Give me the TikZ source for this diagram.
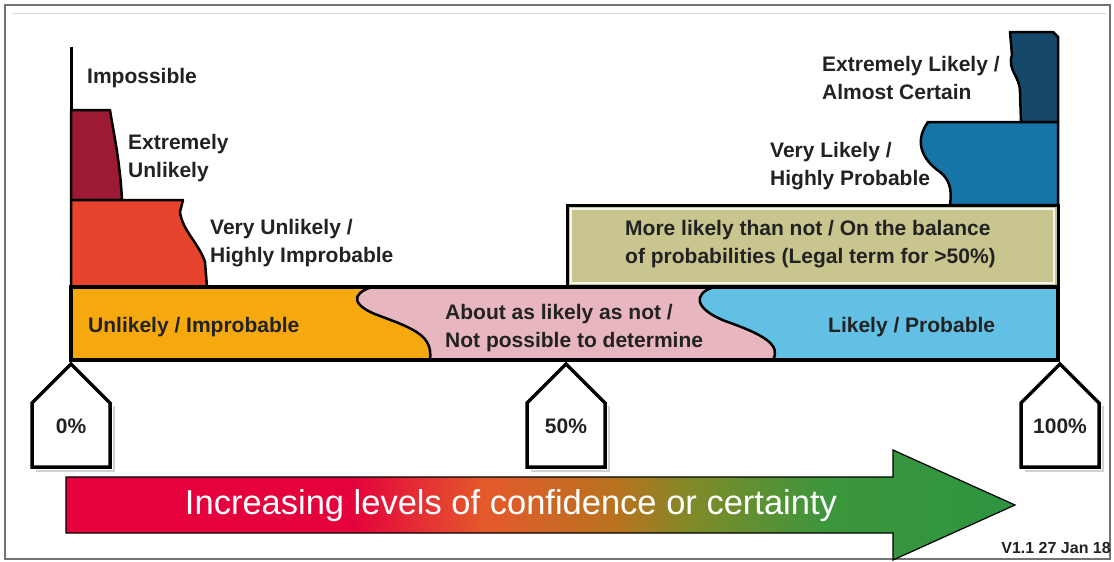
\documentclass[tikz,border=0pt]{standalone}
\usepackage{fontspec}
\setmainfont{Liberation Sans}
\definecolor{cDarkRed}{HTML}{9C1A33}
\definecolor{cRed}{HTML}{E8432C}
\definecolor{cOrange}{HTML}{F6A90F}
\definecolor{cPink}{HTML}{E8B6BF}
\definecolor{cLightBlue}{HTML}{62C0E5}
\definecolor{cOlive}{HTML}{C9C58F}
\definecolor{cMidBlue}{HTML}{1674A6}
\definecolor{cNavy}{HTML}{16486A}
\definecolor{cTxt}{HTML}{222222}
\definecolor{gR}{HTML}{E4013C}
\definecolor{gO}{HTML}{E4592B}
\definecolor{gB}{HTML}{B8721F}
\definecolor{gY}{HTML}{7F8A28}
\definecolor{gG}{HTML}{3C963C}
\definecolor{gG2}{HTML}{2D9440}
\pgfdeclarehorizontalshading{confgrad}{100bp}{color(0bp)=(gR); color(25bp)=(gR); color(40bp)=(gR); color(47bp)=(gO); color(54bp)=(gB); color(58bp)=(gY); color(65bp)=(gG); color(75bp)=(gG2); color(100bp)=(gG2)}
\begin{document}
\begin{tikzpicture}[x=1pt,y=-1pt,
  lbl/.style={font=\fontsize{21}{28}\selectfont\bfseries, text=cTxt, inner sep=0pt, anchor=west, align=left},
  taglbl/.style={font=\fontsize{21}{24}\selectfont\bfseries, text=cTxt, inner sep=0pt},
  tagbox/.style={draw=black, line width=3.5pt, fill=white, line join=miter},
  tagshadow/.style={draw=black!18, line width=2pt},
  outl/.style={draw=black, line width=2.5pt, line join=round},
  divline/.style={draw=black, line width=2.5pt}]
\useasboundingbox (0,0) rectangle (1114,562);
\fill[white] (0,0) rectangle (1114,562);
% frame
\draw[black!55, line width=2pt] (5,5) rectangle (1110,559);
\draw[black!15, line width=1pt] (12,13) -- (1106,13);
% left steps
\draw[black, line width=3pt] (71,47) -- (71,112);
\path[outl, fill=cDarkRed] (71,110) -- (110,110) .. controls (113,130) and (120,160) .. (122,200) -- (71,200) -- cycle;
\path[outl, fill=cRed] (71,200) -- (183,200) -- (180,212) .. controls (182,230) and (200,245) .. (205,262) -- (207,287) -- (71,287) -- cycle;
% right steps
\path[outl, fill=cNavy] (1010,32) -- (1053,32) -- (1058,37) -- (1058,122) -- (1021,122) -- (1020,92) .. controls (1020,76) and (1007,70) .. (1012,55) -- cycle;
\path[outl, fill=cMidBlue] (1058,122) -- (928,122) .. controls (915,140) and (920,158) .. (940,172) .. controls (950,180) and (952,190) .. (950,205) -- (1058,205) -- cycle;
% olive box
\path[draw=black, line width=3pt, fill=cOlive] (567,205) rectangle (1058,287);
\draw[white!85!cOlive, line width=1.2pt] (571,209) rectangle (1054,283);
% main bar
\begin{scope}
\clip (71,287) rectangle (1058,360);
\fill[cOrange] (71,287) rectangle (1058,360);
\fill[cPink] (372,287) .. controls (350,294) and (352,306) .. (380,316) .. controls (415,329) and (433,336) .. (430,360) -- (1058,360) -- (1058,287) -- cycle;
\fill[cLightBlue] (714,287) .. controls (692,294) and (695,309) .. (725,321) .. controls (765,335) and (781,345) .. (773,360) -- (1058,360) -- (1058,287) -- cycle;
\draw[divline] (372,287) .. controls (350,294) and (352,306) .. (380,316) .. controls (415,329) and (433,336) .. (430,360);
\draw[divline] (714,287) .. controls (692,294) and (695,309) .. (725,321) .. controls (765,335) and (781,345) .. (773,360);
\end{scope}
\draw[black, line width=4pt] (71,287) rectangle (1058,360);
% labels
\node[lbl] (impossible) at (87,78) {Impossible};
\node[lbl] (extunlikely) at (128,158) {Extremely\\Unlikely};
\node[lbl] (vunlikely) at (210,243) {Very Unlikely /\\Highly Improbable};
\node[lbl] (unlikely) at (88,327) {Unlikely / Improbable};
\node[lbl] (about) at (445,328) {About as likely as not /\\Not possible to determine};
\node[lbl] (morelikely) at (625,244) {More likely than not / On the balance\\of probabilities (Legal term for >50\%)};
\node[lbl] (likely) at (828,327) {Likely / Probable};
\node[lbl] (extlikely) at (822,78) {Extremely Likely /\\Almost Certain};
\node[lbl] (vlikely) at (770,166) {Very Likely /\\Highly Probable};
% tags
\foreach \cx/\nm/\tx in {71/t0/0\%, 566/t50/50\%, 1060/t100/100\%}{
  \draw[tagshadow] (\cx+43,406) -- (\cx+43,471) -- (\cx-35,471);
  \path[tagbox] (\cx,364) -- (\cx+39,403) -- (\cx+39,467) -- (\cx-39,467) -- (\cx-39,403) -- cycle;
  \node[taglbl] (\nm) at (\cx,426) {\tx};
}
% gradient arrow
\shade[shading=confgrad, draw=black, line width=1.2pt]
  (66,477) -- (893,477) -- (893,450) -- (1015,505) -- (893,560) -- (893,533) -- (66,533) -- cycle;
\node[font=\fontsize{34.5}{40}\selectfont, text=white, inner sep=0pt] (arrowtext) at (511,506) {Increasing levels of confidence or certainty};
\node[font=\fontsize{16}{18}\selectfont\bfseries, text=cTxt, inner sep=0pt, anchor=east] (version) at (1111,548) {V1.1 27 Jan 18};
\end{tikzpicture}
\end{document}
